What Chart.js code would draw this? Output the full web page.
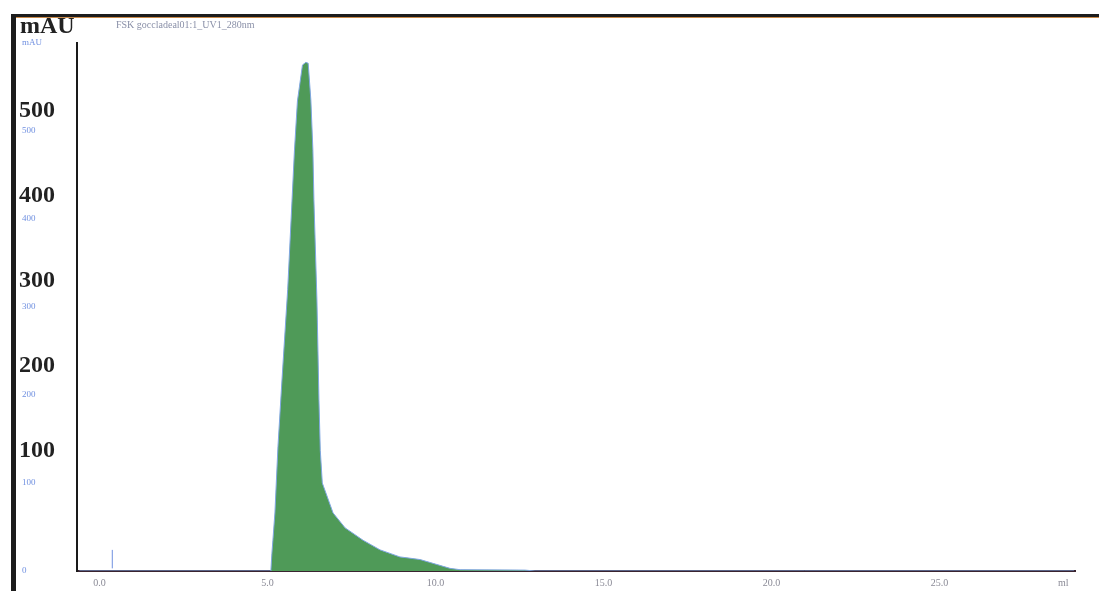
<!DOCTYPE html>
<html>
<head>
<meta charset="utf-8">
<title>UV1_280nm</title>
<script src="https://cdn.jsdelivr.net/npm/chart.js@4/dist/chart.umd.min.js"></script>
<style>
  html, body { margin: 0; padding: 0; background: #ffffff; }
  #wrap { position: relative; width: 1099px; height: 591px; }
</style>
</head>
<body>
<div id="wrap"><canvas id="chroma" width="1099" height="591"></canvas></div>
<script>
const retentionMl = [-0.6, 5.10, 5.13, 5.16, 5.22, 5.31, 5.43, 5.60, 5.80, 5.89, 6.04, 6.14,
  6.21, 6.29, 6.35, 6.38, 6.47, 6.53, 6.57, 6.63, 6.95, 7.31, 7.84, 8.35, 8.94, 9.15,
  9.54, 10.43, 10.73, 12.66, 12.96, 29.0];
const absorbanceMau = [0, 0, 20, 35, 66, 141, 217, 320, 477, 534, 575, 578,
  577, 535, 478, 422, 308, 194, 137, 100, 66, 49, 35, 24, 16, 15,
  13, 3, 1.5, 1, 0, 0];

// marca de inyeccion (azul)
const injectMl = [0.38, 0.38];
const injectMau = [3, 24];

const xTickValues = [0, 5, 10, 15, 20, 25];
const boldLabels = [500, 400, 300, 200, 100];
const traceTitle = 'FSK goccladeal01:1_UV1_280nm';

const serif = "'Liberation Serif', 'DejaVu Serif', serif";

const peakData = retentionMl.map((x, i) => ({ x: x, y: absorbanceMau[i] }));
const injectData = injectMl.map((x, i) => ({ x: x, y: injectMau[i] }));

// marco, rotulos en negrita y titulo de la traza
const scanDecor = {
  id: 'scanDecor',
  afterDraw(chart) {
    const ctx = chart.ctx;
    const y = chart.scales.y;
    ctx.save();
    // marco exterior
    ctx.fillStyle = '#1c1c1c';
    ctx.fillRect(13, 14, 1086, 3);
    ctx.fillStyle = '#c98a4a';
    ctx.fillRect(13, 17, 1086, 1);
    ctx.fillStyle = '#1c1c1c';
    ctx.fillRect(11, 14, 5, 577);

    ctx.fillStyle = '#222222';
    ctx.textBaseline = 'middle';
    ctx.textAlign = 'left';
    ctx.font = 'bold 24px ' + serif;
    ctx.fillText('mAU', 20, 27);
    // el eje en negrita del escaneo esta algo comprimido
    boldLabels.forEach(v => {
      ctx.fillText(String(v), 19, y.getPixelForValue(v * 0.966 + 40));
    });

    ctx.font = '10px ' + serif;
    ctx.fillStyle = '#8a90a8';
    ctx.fillText(traceTitle, 116, 25);

    ctx.fillStyle = '#8a8a96';
    ctx.textBaseline = 'top';
    ctx.fillText('ml', 1058, 578);
    ctx.restore();
  }
};

const chart = new Chart('chroma', {
  type: 'line',
  data: {
    datasets: [
      {
        label: 'UV1_280nm',
        data: peakData,
        borderColor: '#7fa6e0',
        borderWidth: 1,
        backgroundColor: '#4f9a58',
        fill: 'origin',
        pointRadius: 0,
        tension: 0
      },
      {
        label: 'inject',
        data: injectData,
        borderColor: '#6f90e0',
        borderWidth: 1,
        pointRadius: 0,
        fill: false
      }
    ]
  },
  options: {
    responsive: false,
    devicePixelRatio: 1,
    animation: false,
    layout: { padding: { left: 22, right: 24, top: 43, bottom: 0 } },
    plugins: {
      legend: { display: false },
      tooltip: { enabled: false }
    },
    scales: {
      x: {
        type: 'linear',
        min: -0.67,
        max: 29.03,
        grid: { display: false, drawTicks: false },
        border: { display: true, color: '#3a2430', width: 2 },
        afterBuildTicks: s => { s.ticks = xTickValues.map(v => ({ value: v })); },
        afterFit: s => { s.height = 20; },
        ticks: {
          padding: 6,
          maxRotation: 0,
          color: '#8a8a96',
          font: { family: serif, size: 10 },
          callback: v => v.toFixed(1)
        }
      },
      y: {
        min: 0,
        max: 600,
        grid: { display: false, drawTicks: false },
        border: { display: true, color: '#1a1a1a', width: 2 },
        afterFit: s => { s.width = 55; },
        ticks: {
          stepSize: 100,
          crossAlign: 'far',
          color: '#7090e0',
          font: { family: serif, size: 9 },
          callback: v => (v === 600 ? 'mAU' : String(v))
        }
      }
    }
  },
  plugins: [scanDecor]
});
</script>
</body>
</html>
